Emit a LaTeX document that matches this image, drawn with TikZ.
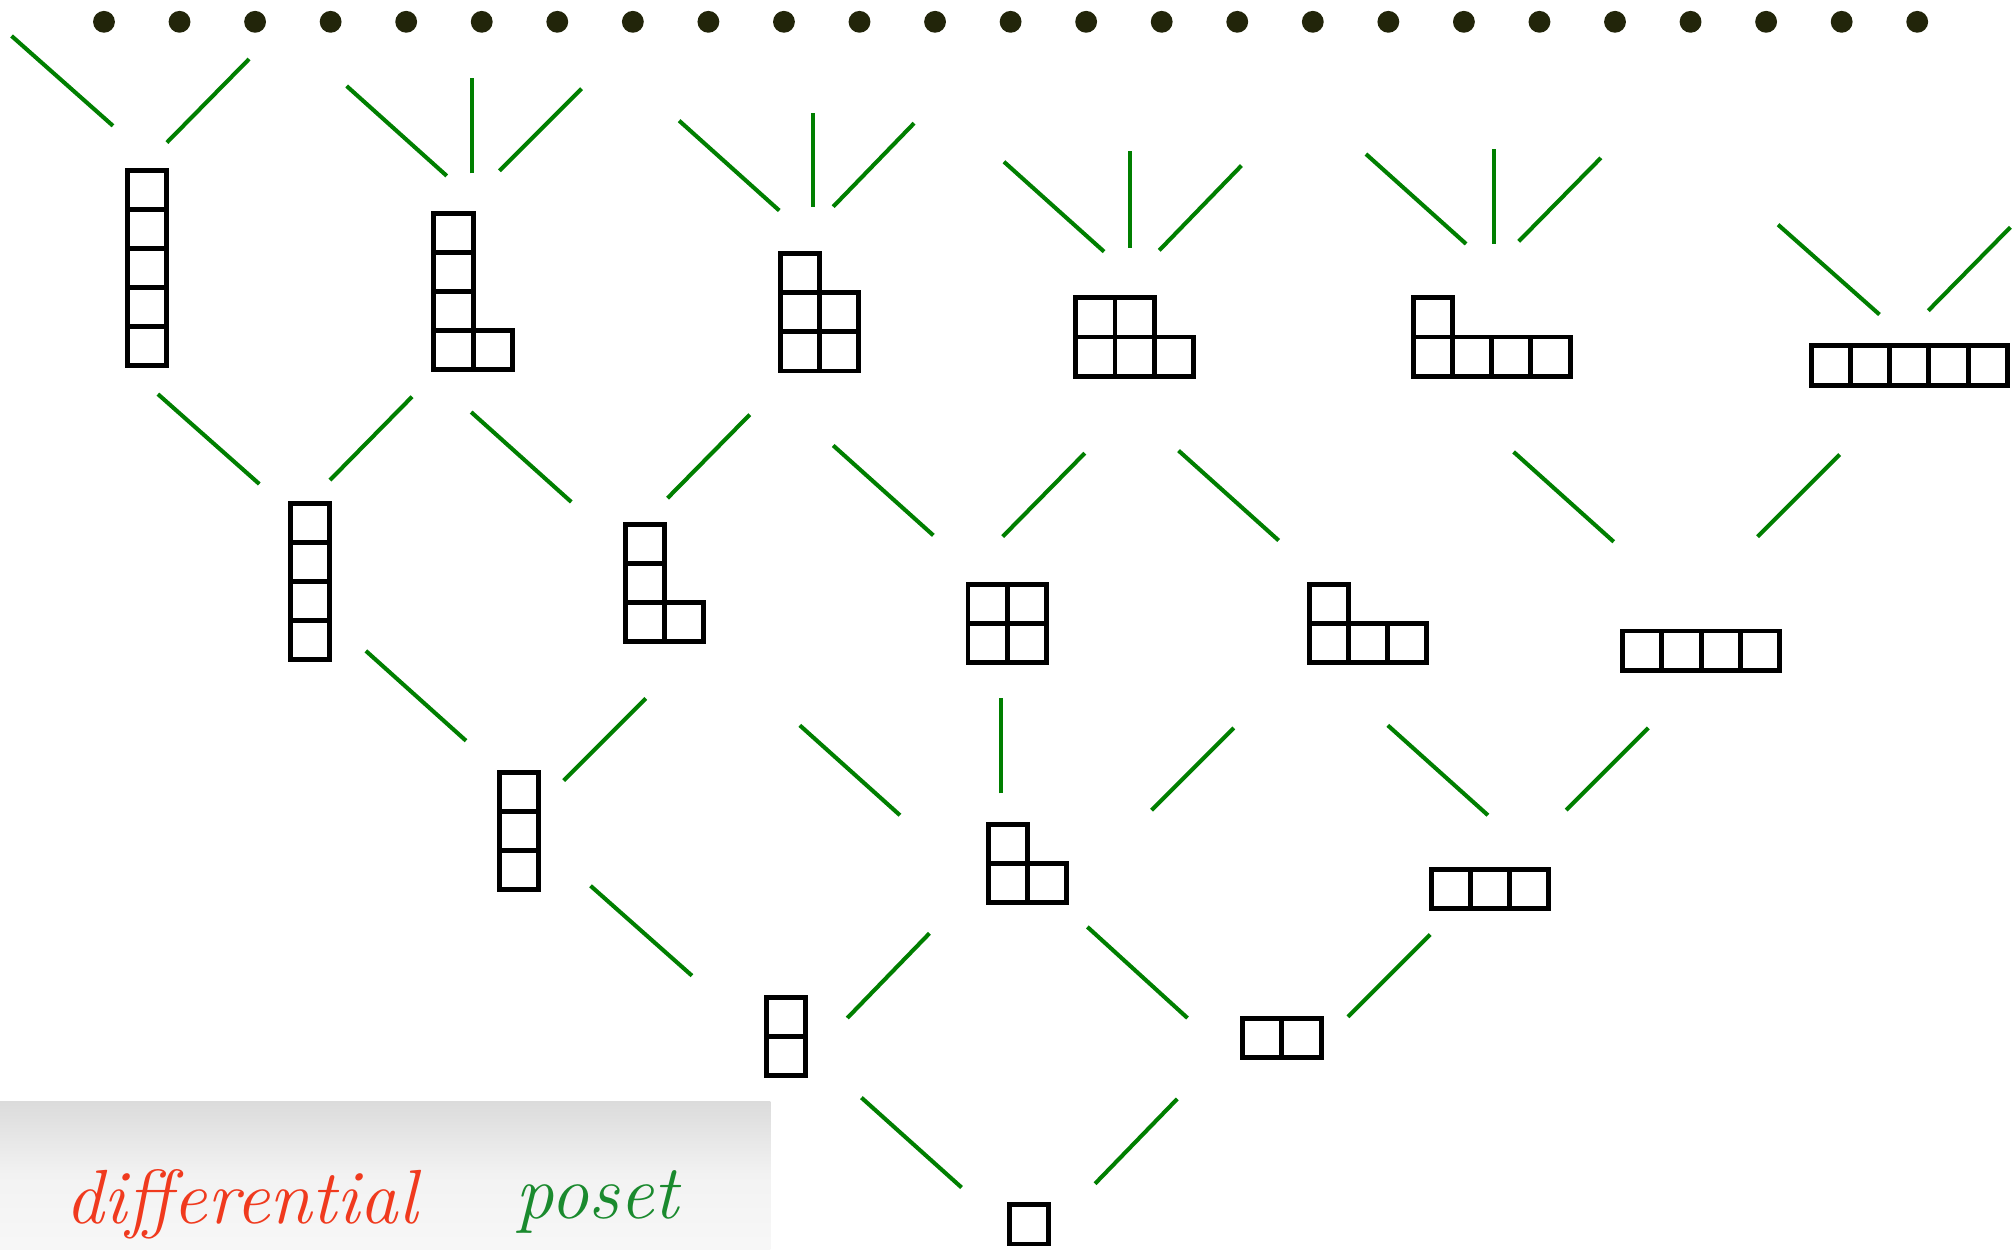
\documentclass[tikz,border=0pt]{standalone}
\usepackage{tikz}
\usetikzlibrary{positioning,calc}
\definecolor{latgreen}{HTML}{007F00}
\definecolor{dotdark}{HTML}{22250A}
\definecolor{inkred}{HTML}{F03A1E}
\definecolor{inkgreen}{HTML}{1A8A2E}
\tikzset{
  yd/cell/.style={draw=black, line width=1.1pt},
  yd/shape/.style={inner sep=0pt, outer sep=0pt, anchor=south west},
  yd/edge/.style={draw=latgreen, line width=0.9pt},
  yd/dot/.style={fill=dotdark},
  yd/ink/.style={font=\fontsize{17}{20}\selectfont\itshape, anchor=base west, inner sep=0pt}
}
\newcommand{\cellsz}{30.5}
% name, x, y (lower left), columns, rows, row lengths (bottom row first)
\newcommand{\youngdiag}[6]{%
  \node[yd/shape, minimum width=#4*3.05mm, minimum height=#5*3.05mm] (#1) at (#2,#3) {};
  \foreach \nc [count=\rw] in {#6}
    \foreach \cl in {1,...,\nc}
      \draw[yd/cell] ({#2+(\cl-1)*\cellsz},{#3-(\rw-1)*\cellsz}) rectangle ++(\cellsz,-\cellsz);
}

\begin{document}
\begin{tikzpicture}[x=0.01cm, y=-0.01cm]
  \fill[white] (0,0) rectangle (1568,973);
  \useasboundingbox (0,0) rectangle (1568,973);

  % the rest of the lattice
  \foreach \i in {0,...,24}
    \fill[yd/dot] ({81+58.85*\i},17) circle (0.85mm);

  % rank 5
  \youngdiag{d11111}{99}{285}{1}{5}{1,1,1,1,1}
  \youngdiag{d2111}{338}{288}{2}{4}{2,1,1,1}
  \youngdiag{d221}{608}{289}{2}{3}{2,2,1}
  \youngdiag{d32}{838}{293}{3}{2}{3,2}
  \youngdiag{d41}{1101}{293}{4}{2}{4,1}
  \youngdiag{d5}{1411}{300}{5}{1}{5}
  % rank 4
  \youngdiag{d1111}{226}{514}{1}{4}{1,1,1,1}
  \youngdiag{d211}{487}{500}{2}{3}{2,1,1}
  \youngdiag{d22}{754}{516}{2}{2}{2,2}
  \youngdiag{d31}{1020}{516}{3}{2}{3,1}
  \youngdiag{d4}{1264}{522}{4}{1}{4}
  % rank 3
  \youngdiag{d111}{389}{693}{1}{3}{1,1,1}
  \youngdiag{d21}{770}{703}{2}{2}{2,1}
  \youngdiag{d3}{1115}{708}{3}{1}{3}
  % rank 2 and 1
  \youngdiag{d11}{597}{838}{1}{2}{1,1}
  \youngdiag{d2}{968}{824}{2}{1}{2}
  \youngdiag{d1}{786}{969}{1}{1}{1}

  % covering relations
  \draw[yd/edge] ([shift={(-37,-44)}]d1.south west) -- ([shift={(74,17)}]d11.south west);
  \draw[yd/edge] ([shift={(67,-47)}]d1.south west) -- ([shift={(-51,32)}]d2.south west);

  \draw[yd/edge] ([shift={(-58,-78)}]d11.south west) -- ([shift={(71,-3)}]d111.south west);
  \draw[yd/edge] ([shift={(63,-45)}]d11.south west) -- ([shift={(-46,24)}]d21.south west);
  \draw[yd/edge] ([shift={(-43,-31)}]d2.south west) -- ([shift={(77,19)}]d21.south west);
  \draw[yd/edge] ([shift={(82,-32)}]d2.south west) -- ([shift={(-1,20)}]d3.south west);

  \draw[yd/edge] ([shift={(-26,-116)}]d111.south west) -- ([shift={(59,-7)}]d1111.south west);
  \draw[yd/edge] ([shift={(50,-85)}]d111.south west) -- ([shift={(16,44)}]d211.south west);
  \draw[yd/edge] ([shift={(-69,-68)}]d21.south west) -- ([shift={(136,65)}]d211.south west);
  \draw[yd/edge] ([shift={(10,-85)}]d21.south west) -- ([shift={(26,28)}]d22.south west);
  \draw[yd/edge] ([shift={(127,-72)}]d21.south west) -- ([shift={(-59,51)}]d31.south west);
  \draw[yd/edge] ([shift={(44,-73)}]d3.south west) -- ([shift={(61,49)}]d31.south west);
  \draw[yd/edge] ([shift={(105,-77)}]d3.south west) -- ([shift={(20,45)}]d4.south west);

  \draw[yd/edge] ([shift={(-24,-137)}]d1111.south west) -- ([shift={(24,22)}]d11111.south west);
  \draw[yd/edge] ([shift={(31,-140)}]d1111.south west) -- ([shift={(-17,21)}]d2111.south west);
  \draw[yd/edge] ([shift={(-42,-109)}]d211.south west) -- ([shift={(29,33)}]d2111.south west);
  \draw[yd/edge] ([shift={(33,-112)}]d211.south west) -- ([shift={(-24,34)}]d221.south west);
  \draw[yd/edge] ([shift={(-27,-99)}]d22.south west) -- ([shift={(41,58)}]d221.south west);
  \draw[yd/edge] ([shift={(27,-98)}]d22.south west) -- ([shift={(7,60)}]d32.south west);
  \draw[yd/edge] ([shift={(-24,-95)}]d31.south west) -- ([shift={(80,58)}]d32.south west);
  \draw[yd/edge] ([shift={(-7,-100)}]d4.south west) -- ([shift={(78,59)}]d41.south west);
  \draw[yd/edge] ([shift={(105,-104)}]d4.south west) -- ([shift={(22,54)}]d5.south west);

  % open ends towards rank 6
  \draw[yd/edge] ([shift={(-11,-187)}]d11111.south west) -- ++(-79,-70);
  \draw[yd/edge] ([shift={(31,-174)}]d11111.south west) -- ++(64,-65);
  \draw[yd/edge] ([shift={(10,-151)}]d2111.south west) -- ++(-78,-70);
  \draw[yd/edge] ([shift={(30,-153)}]d2111.south west) -- ++(0,-74);
  \draw[yd/edge] ([shift={(51,-155)}]d2111.south west) -- ++(64,-64);
  \draw[yd/edge] ([shift={(-1,-125)}]d221.south west) -- ++(-78,-70);
  \draw[yd/edge] ([shift={(25,-128)}]d221.south west) -- ++(0,-73);
  \draw[yd/edge] ([shift={(41,-128)}]d221.south west) -- ++(63,-65);
  \draw[yd/edge] ([shift={(22,-97)}]d32.south west) -- ++(-78,-70);
  \draw[yd/edge] ([shift={(42,-100)}]d32.south west) -- ++(0,-75);
  \draw[yd/edge] ([shift={(65,-98)}]d32.south west) -- ++(64,-66);
  \draw[yd/edge] ([shift={(41,-103)}]d41.south west) -- ++(-78,-70);
  \draw[yd/edge] ([shift={(63,-103)}]d41.south west) -- ++(0,-74);
  \draw[yd/edge] ([shift={(82,-105)}]d41.south west) -- ++(64,-65);
  \draw[yd/edge] ([shift={(53,-55)}]d5.south west) -- ++(-79,-70);
  \draw[yd/edge] ([shift={(91,-58)}]d5.south west) -- ++(64,-65);

  % caption strip
  \shade[top color=black!14, bottom color=black!3, middle color=black!5] (0,858) rectangle (600,973);
  \node[yd/ink, text=inkred] (lblleft) at (50,953) {differential};
  \node[yd/ink, text=inkgreen] (lblright) at (401,949) {poset};
\end{tikzpicture}
\end{document}
